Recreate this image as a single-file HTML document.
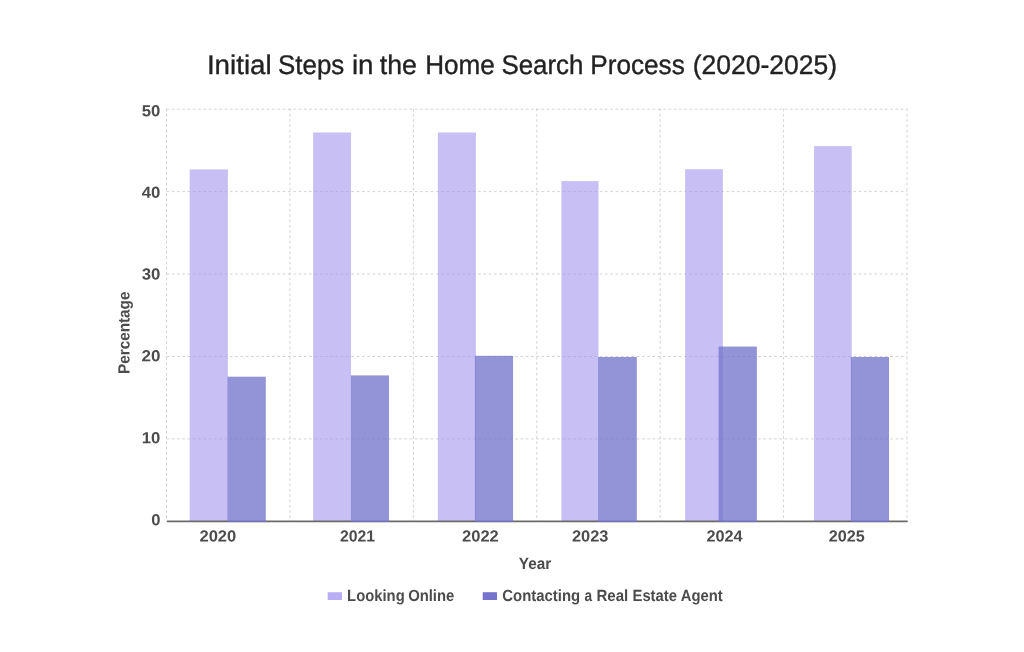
<!DOCTYPE html>
<html lang="en"><head><meta charset="utf-8"><title>Initial Steps in the Home Search Process</title>
<style>html,body{margin:0;padding:0;background:#fff;}body{width:1024px;height:652px;overflow:hidden;}svg{display:block;will-change:transform;}text{font-family:"Liberation Sans",sans-serif;text-rendering:geometricPrecision;}.b{font-weight:bold;fill:#4c4c4c;stroke:#4c4c4c;stroke-width:0;}.t{fill:#222222;stroke:#222222;stroke-width:0.35;}</style></head><body>
<svg width="1024" height="652" viewBox="0 0 1024 652" role="img" aria-label="Grouped bar chart">
<rect width="1024" height="652" fill="#ffffff"/>
<g stroke="#d2d2d2" stroke-width="1" stroke-dasharray="2.64 2.643" fill="none">
<line x1="166.50" y1="438.92" x2="907.00" y2="438.92"/>
<line x1="166.50" y1="356.49" x2="907.00" y2="356.49"/>
<line x1="166.50" y1="274.06" x2="907.00" y2="274.06"/>
<line x1="166.50" y1="191.63" x2="907.00" y2="191.63"/>
<line x1="166.50" y1="109.20" x2="907.00" y2="109.20"/>
<line x1="166.50" y1="108.60" x2="166.50" y2="521.35"/>
<line x1="289.92" y1="108.60" x2="289.92" y2="521.35"/>
<line x1="413.33" y1="108.60" x2="413.33" y2="521.35"/>
<line x1="536.75" y1="108.60" x2="536.75" y2="521.35"/>
<line x1="660.17" y1="108.60" x2="660.17" y2="521.35"/>
<line x1="783.58" y1="108.60" x2="783.58" y2="521.35"/>
<line x1="907.00" y1="108.60" x2="907.00" y2="521.35"/>
</g>
<rect x="189.65" y="169.40" width="38.25" height="352.25" fill="#a394ee" fill-opacity="0.6"/>
<rect x="313.10" y="132.50" width="37.96" height="389.15" fill="#a394ee" fill-opacity="0.6"/>
<rect x="437.84" y="132.50" width="38.06" height="389.15" fill="#a394ee" fill-opacity="0.6"/>
<rect x="561.40" y="181.10" width="37.10" height="340.55" fill="#a394ee" fill-opacity="0.6"/>
<rect x="685.10" y="169.20" width="37.80" height="352.45" fill="#a394ee" fill-opacity="0.6"/>
<rect x="814.03" y="146.10" width="37.67" height="375.55" fill="#a394ee" fill-opacity="0.6"/>
<line x1="166.90" y1="521.38" x2="907.60" y2="521.38" stroke="#6a6a6a" stroke-width="1.7"/>
<rect x="227.50" y="376.70" width="38.30" height="145.40" fill="#7574cc" fill-opacity="0.78"/>
<rect x="350.90" y="375.40" width="38.10" height="146.70" fill="#7574cc" fill-opacity="0.78"/>
<rect x="474.90" y="355.80" width="38.20" height="166.30" fill="#7574cc" fill-opacity="0.78"/>
<rect x="598.10" y="357.00" width="38.70" height="165.10" fill="#7574cc" fill-opacity="0.78"/>
<rect x="718.65" y="346.56" width="38.25" height="175.54" fill="#7574cc" fill-opacity="0.78"/>
<rect x="850.90" y="357.00" width="38.10" height="165.10" fill="#7574cc" fill-opacity="0.78"/>
<text class="t" transform="translate(206.91 74.00) rotate(0.03)" font-size="27.0" textLength="64.77" lengthAdjust="spacingAndGlyphs">Initial</text>
<text class="t" transform="translate(278.10 74.00) rotate(0.03)" font-size="27.0" textLength="66.16" lengthAdjust="spacingAndGlyphs">Steps</text>
<text class="t" transform="translate(351.92 74.00) rotate(0.03)" font-size="27.0" textLength="21.61" lengthAdjust="spacingAndGlyphs">in</text>
<text class="t" transform="translate(379.77 74.00) rotate(0.03)" font-size="27.0" textLength="37.14" lengthAdjust="spacingAndGlyphs">the</text>
<text class="t" transform="translate(425.24 74.00) rotate(0.03)" font-size="27.0" textLength="69.55" lengthAdjust="spacingAndGlyphs">Home</text>
<text class="t" transform="translate(501.40 74.00) rotate(0.03)" font-size="27.0" textLength="82.01" lengthAdjust="spacingAndGlyphs">Search</text>
<text class="t" transform="translate(590.23 74.00) rotate(0.03)" font-size="27.0" textLength="94.54" lengthAdjust="spacingAndGlyphs">Process</text>
<text class="t" transform="translate(692.63 74.00) rotate(0.03)" font-size="27.0" textLength="144.34" lengthAdjust="spacingAndGlyphs">(2020-2025)</text>
<text class="b" transform="translate(141.79 116.20) rotate(0.03)" font-size="16.0" textLength="18.60" lengthAdjust="spacingAndGlyphs">50</text>
<text class="b" transform="translate(141.75 197.70) rotate(0.03)" font-size="16.0" textLength="18.64" lengthAdjust="spacingAndGlyphs">40</text>
<text class="b" transform="translate(141.71 279.60) rotate(0.03)" font-size="16.0" textLength="18.67" lengthAdjust="spacingAndGlyphs">30</text>
<text class="b" transform="translate(141.51 361.20) rotate(0.03)" font-size="16.0" textLength="18.88" lengthAdjust="spacingAndGlyphs">20</text>
<text class="b" transform="translate(141.85 443.20) rotate(0.03)" font-size="16.0" textLength="18.53" lengthAdjust="spacingAndGlyphs">10</text>
<text class="b" transform="translate(151.14 525.20) rotate(0.03)" font-size="16.0" textLength="9.24" lengthAdjust="spacingAndGlyphs">0</text>
<text class="b" transform="translate(199.43 541.60) rotate(0.03)" font-size="16.0" textLength="36.85" lengthAdjust="spacingAndGlyphs">2020</text>
<text class="b" transform="translate(339.95 541.60) rotate(0.03)" font-size="16.0" textLength="35.09" lengthAdjust="spacingAndGlyphs">2021</text>
<text class="b" transform="translate(462.03 541.60) rotate(0.03)" font-size="16.0" textLength="36.73" lengthAdjust="spacingAndGlyphs">2022</text>
<text class="b" transform="translate(571.93 541.60) rotate(0.03)" font-size="16.0" textLength="36.46" lengthAdjust="spacingAndGlyphs">2023</text>
<text class="b" transform="translate(706.44 541.60) rotate(0.03)" font-size="16.0" textLength="36.15" lengthAdjust="spacingAndGlyphs">2024</text>
<text class="b" transform="translate(828.84 541.60) rotate(0.03)" font-size="16.0" textLength="36.01" lengthAdjust="spacingAndGlyphs">2025</text>
<text class="b" transform="translate(518.84 569.00) rotate(0.03)" font-size="16.2" textLength="32.39" lengthAdjust="spacingAndGlyphs">Year</text>
<text class="b" transform="translate(129.50 373.00) rotate(-89.97)" x="-1.02" y="0" font-size="16.2" textLength="82.45" lengthAdjust="spacingAndGlyphs">Percentage</text>
<text class="b" transform="translate(347.11 601.10) rotate(0.03)" font-size="16.2" textLength="57.63" lengthAdjust="spacingAndGlyphs">Looking</text>
<text class="b" transform="translate(408.14 601.10) rotate(0.03)" font-size="16.2" textLength="46.12" lengthAdjust="spacingAndGlyphs">Online</text>
<text class="b" transform="translate(502.29 601.10) rotate(0.03)" font-size="16.2" textLength="77.81" lengthAdjust="spacingAndGlyphs">Contacting</text>
<text class="b" transform="translate(584.60 601.10) rotate(0.03)" font-size="16.2" textLength="7.61" lengthAdjust="spacingAndGlyphs">a</text>
<text class="b" transform="translate(596.49 601.10) rotate(0.03)" font-size="16.2" textLength="31.77" lengthAdjust="spacingAndGlyphs">Real</text>
<text class="b" transform="translate(632.51 601.10) rotate(0.03)" font-size="16.2" textLength="44.40" lengthAdjust="spacingAndGlyphs">Estate</text>
<text class="b" transform="translate(680.83 601.10) rotate(0.03)" font-size="16.2" textLength="41.95" lengthAdjust="spacingAndGlyphs">Agent</text>
<rect x="327.7" y="592.2" width="14.3" height="7.8" fill="#b9aef4"/>
<rect x="482.7" y="592.2" width="14.3" height="7.8" fill="#7673cc"/>
</svg></body></html>
